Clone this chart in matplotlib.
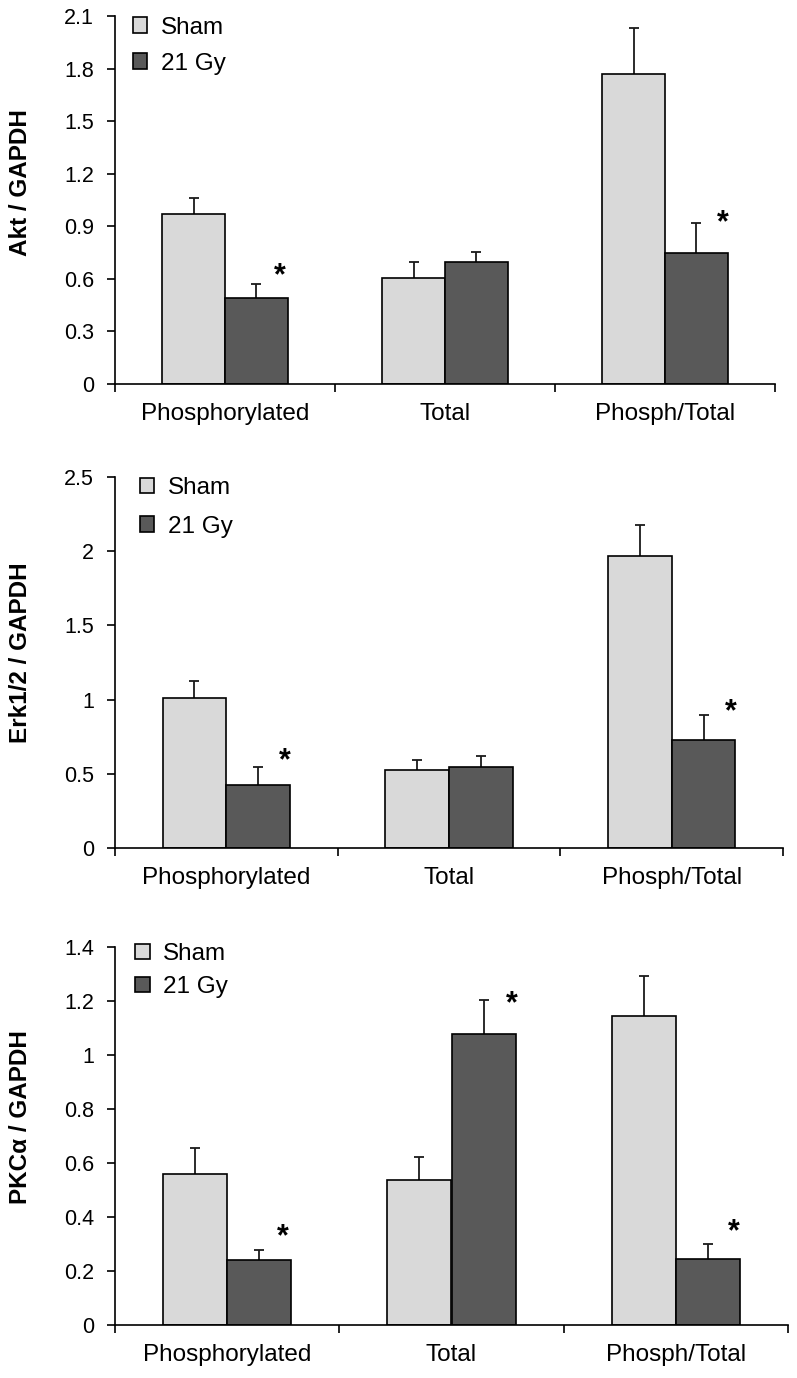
import numpy as np
import matplotlib
matplotlib.use("Agg")
import matplotlib.pyplot as plt
from matplotlib.ticker import FuncFormatter, FixedLocator

plt.rcParams['font.family'] = ['Liberation Sans', 'DejaVu Sans']

# categories on the x axis
categories = ["Phosphorylated", "Total", "Phosph/Total"]
groups = ["Sham", "21 Gy"]

# Akt / GAPDH
akt_sham = [0.968, 0.607, 1.767]
akt_sham_err = [0.092, 0.089, 0.263]
akt_gy = [0.491, 0.698, 0.748]
akt_gy_err = [0.080, 0.055, 0.173]
akt_star_x = [0.25, 2.264]
akt_star_y = [0.668, 0.970]

# Erk1/2 / GAPDH
erk_sham = [1.009, 0.526, 1.968]
erk_sham_err = [0.118, 0.069, 0.209]
erk_gy = [0.424, 0.548, 0.730]
erk_gy_err = [0.120, 0.074, 0.166]
erk_star_x = [0.263, 2.266]
erk_star_y = [0.649, 0.979]

# PKCa / GAPDH
pkc_sham = [0.560, 0.536, 1.146]
pkc_sham_err = [0.094, 0.087, 0.146]
pkc_gy = [0.241, 1.077, 0.245]
pkc_gy_err = [0.038, 0.126, 0.054]
pkc_star_x = [0.249, 1.269, 2.260]
pkc_star_y = [0.360, 1.223, 0.379]

SHAM_COLOR = "#d9d9d9"
GY_COLOR = "#595959"
BAR_W = 0.286
STAR_FS = 22
W, H = 797, 1378


def draw_panel(ax, sham, sham_err, gy, gy_err, star_x, star_y,
               ylabel, ymax, ystep, label_y, leg_xy, leg_space):
    x = np.arange(len(categories))
    b1 = ax.bar(x - BAR_W / 2, sham, BAR_W, color=SHAM_COLOR,
                edgecolor="black", linewidth=1.2, label=groups[0], zorder=2)
    b2 = ax.bar(x + BAR_W / 2, gy, BAR_W, color=GY_COLOR,
                edgecolor="black", linewidth=1.2, label=groups[1], zorder=2)

    # only the upper half of the error bars is shown
    for xs, vals, errs in [(x - BAR_W / 2, sham, sham_err), (x + BAR_W / 2, gy, gy_err)]:
        _, caps, _ = ax.errorbar(xs, vals, yerr=[np.zeros(len(errs)), errs], fmt="none",
                                 ecolor="#1a1a1a", elinewidth=1.3, capsize=3.4,
                                 capthick=1.3, zorder=1)
        caps[0].set_visible(False)

    for sx, sy in zip(star_x, star_y):
        ax.annotate("*", xy=(sx, sy), xytext=(0, -0.58 * STAR_FS), textcoords="offset points",
                    ha="center", va="baseline", fontsize=STAR_FS, fontweight="bold")

    ax.set_xlim(-0.5, 2.5)
    ax.set_ylim(0, ymax)
    ax.set_yticks(np.arange(0, ymax + ystep / 2, ystep))
    ax.yaxis.set_major_formatter(FuncFormatter(lambda v, p: f"{round(v, 2):g}"))

    # ticks at category boundaries, labels at centres
    ax.xaxis.set_major_locator(FixedLocator([-0.5, 0.5, 1.5, 2.5]))
    ax.xaxis.set_major_formatter(FuncFormatter(lambda v, p: ""))
    ax.xaxis.set_minor_locator(FixedLocator(x))
    ax.set_xticklabels(categories, minor=True)
    ax.tick_params(axis="x", which="major", length=6, width=1.2, direction="out")
    ax.tick_params(axis="x", which="minor", length=0, pad=14, labelsize=17.5)
    ax.tick_params(axis="y", length=6, width=1.2, direction="out", pad=9, labelsize=15.5)

    for side in ["top", "right"]:
        ax.spines[side].set_visible(False)
    for side in ["left", "bottom"]:
        ax.spines[side].set_linewidth(1.2)

    ax.set_ylabel(ylabel, fontsize=17.5, fontweight="bold")
    ax.yaxis.set_label_coords(-0.125 * 660 / (ax.get_position().width * W), label_y)

    ax.legend(handles=[b1, b2], loc="upper left", bbox_to_anchor=leg_xy,
              frameon=False, fontsize=17.5, handlelength=0.6, handleheight=0.6,
              handletextpad=0.55, labelspacing=leg_space, borderpad=0, borderaxespad=0)


fig = plt.figure(figsize=(W / 100, H / 100), dpi=100)

boxes = [(115, 16, 775, 384), (115, 477, 783, 848), (115, 947, 788, 1325)]
axes = []
for l, t, r, b in boxes:
    axes.append(fig.add_axes([l / W, (H - b) / H, (r - l) / W, (b - t) / H]))

draw_panel(axes[0], akt_sham, akt_sham_err, akt_gy, akt_gy_err,
           akt_star_x, akt_star_y, "Akt / GAPDH", 2.1, 0.3, 0.548, (0.027, 0.998), 0.57)
draw_panel(axes[1], erk_sham, erk_sham_err, erk_gy, erk_gy_err,
           erk_star_x, erk_star_y, "Erk1/2 / GAPDH", 2.5, 0.5, 0.527, (0.037, 1.0), 0.69)
draw_panel(axes[2], pkc_sham, pkc_sham_err, pkc_gy, pkc_gy_err,
           pkc_star_x, pkc_star_y, "PKC\u03b1 / GAPDH", 1.4, 0.2, 0.55, (0.03, 1.01), 0.44)

fig.savefig("out.png", dpi=100, facecolor="white")
